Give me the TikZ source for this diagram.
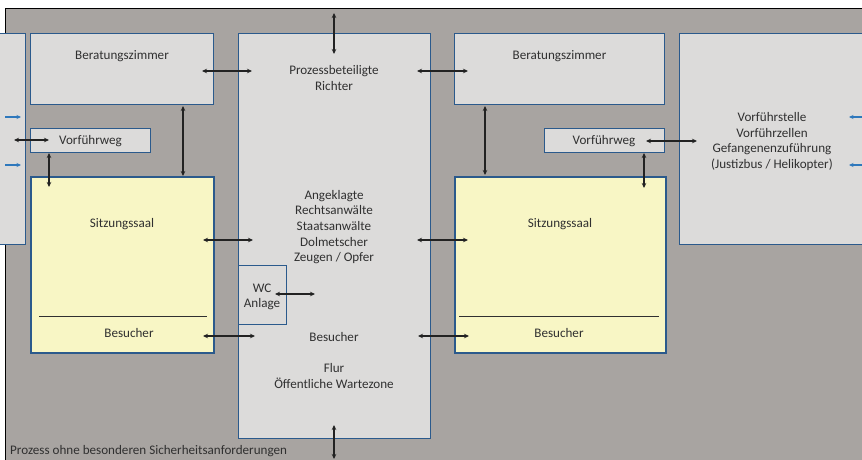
\documentclass[tikz,border=0pt]{standalone}
\usepackage{fontspec}
\setmainfont{Carlito}
\usetikzlibrary{arrows.meta}
\definecolor{bggray}{HTML}{A8A4A1}
\definecolor{boxgray}{HTML}{DCDBDA}
\definecolor{saal}{HTML}{F8F6C5}
\definecolor{bord}{HTML}{2B5A8C}
\definecolor{txt}{HTML}{303030}
\definecolor{arr}{HTML}{222222}
\definecolor{blu}{HTML}{2E78BC}
\tikzset{
  box/.style={draw=bord, line width=1.3pt, fill=boxgray, rectangle, inner sep=0pt, anchor=north west},
  saalbox/.style={box, fill=saal, line width=1.8pt},
  lbl/.style={text=txt, font=\fontsize{13.1}{15.7}\selectfont, align=center, inner sep=0pt},
  dar/.style={draw=arr, line width=1.3pt, {Stealth[length=5pt,width=4.5pt]}-{Stealth[length=5pt,width=4.5pt]}},
  bar/.style={draw=blu, line width=1.1pt, -{Stealth[length=4.5pt,width=4pt]}}
}
\begin{document}
\begin{tikzpicture}[x=1pt,y=-1pt]
\useasboundingbox (0,0) rectangle (862,460);
\begin{scope}
\clip (0,0) rectangle (862,460);
\fill[bggray] (5,9) rectangle (870,470);
\draw[black, line width=1pt] (5,470) -- (5,9) -- (870,9);
% boxes
\node[box, minimum width=40, minimum height=211] (lbox) at (-15,33) {};
\node[box, minimum width=200, minimum height=211] (rbox) at (679,33) {};
\node[box, minimum width=183, minimum height=71] (berL) at (30,33) {};
\node[box, minimum width=120, minimum height=24] (vwL) at (30,128) {};
\node[saalbox, minimum width=183, minimum height=176] (saalL) at (30,176) {};
\node[box, minimum width=192, minimum height=405] (mid) at (238,33) {};
\node[box, minimum width=48, minimum height=59] (wc) at (238,265) {};
\node[box, minimum width=210, minimum height=71] (berR) at (454,33) {};
\node[box, minimum width=120, minimum height=24] (vwR) at (544,128) {};
\node[saalbox, minimum width=211, minimum height=176] (saalR) at (454,176) {};
\end{scope}
% separator lines in Sitzungssaal
\draw[txt, line width=1pt] (39,316) -- (207,316);
\draw[txt, line width=1pt] (459,316) -- (659,316);
% labels
\node[lbl] (tBerL) at (122,56) {Beratungszimmer};
\node[lbl] (tBerR) at (559.5,56) {Beratungszimmer};
\node[lbl] (tVwL) at (90.5,141) {Vorführweg};
\node[lbl] (tVwR) at (604,141) {Vorführweg};
\node[lbl] (tSaalL) at (122,224) {Sitzungssaal};
\node[lbl] (tSaalR) at (560,224) {Sitzungssaal};
\node[lbl] (tBesL) at (129,333) {Besucher};
\node[lbl] (tBesR) at (559,333) {Besucher};
\node[lbl] (tRich) at (334,78) {Prozessbeteiligte\\Richter};
\node[lbl] (tAng) at (334,227) {Angeklagte\\Rechtsanwälte\\Staatsanwälte\\Dolmetscher\\Zeugen / Opfer};
\node[lbl] (tWC) at (262,297) {WC\\Anlage};
\node[lbl] (tBesM) at (334,337) {Besucher};
\node[lbl] (tFlur) at (334,376) {Flur\\Öffentliche Wartezone};
\node[lbl] (tVst) at (772,141.5) {Vorführstelle\\Vorführzellen\\Gefangenenzuführung\\(Justizbus / Helikopter)};
\node[lbl, anchor=west] (tFoot) at (10,451) {Prozess ohne besonderen Sicherheitsanforderungen};
% arrows
\draw[dar] (334,13) -- (334,54);
\draw[dar] (334,425) -- (334,459);
\draw[dar] (202,71) -- (252,71);
\draw[dar] (417,71) -- (468,71);
\draw[dar] (183,106) -- (183,176);
\draw[dar] (485,106) -- (485,175);
\draw[dar] (14,140) -- (49,140);
\draw[dar] (49,153) -- (49,187);
\draw[dar] (646,141) -- (697,141);
\draw[dar] (644,153) -- (644,188);
\draw[dar] (203,240) -- (253,240);
\draw[dar] (417,240) -- (468,240);
\draw[dar] (275,294) -- (315,294);
\draw[dar] (203,336) -- (255,336);
\draw[dar] (418,336) -- (469,336);
\draw[bar] (5,117) -- (21,117);
\draw[bar] (5,165) -- (21,165);
\draw[bar] (862,117) -- (849,117);
\draw[bar] (862,165) -- (849,165);
\end{tikzpicture}
\end{document}
